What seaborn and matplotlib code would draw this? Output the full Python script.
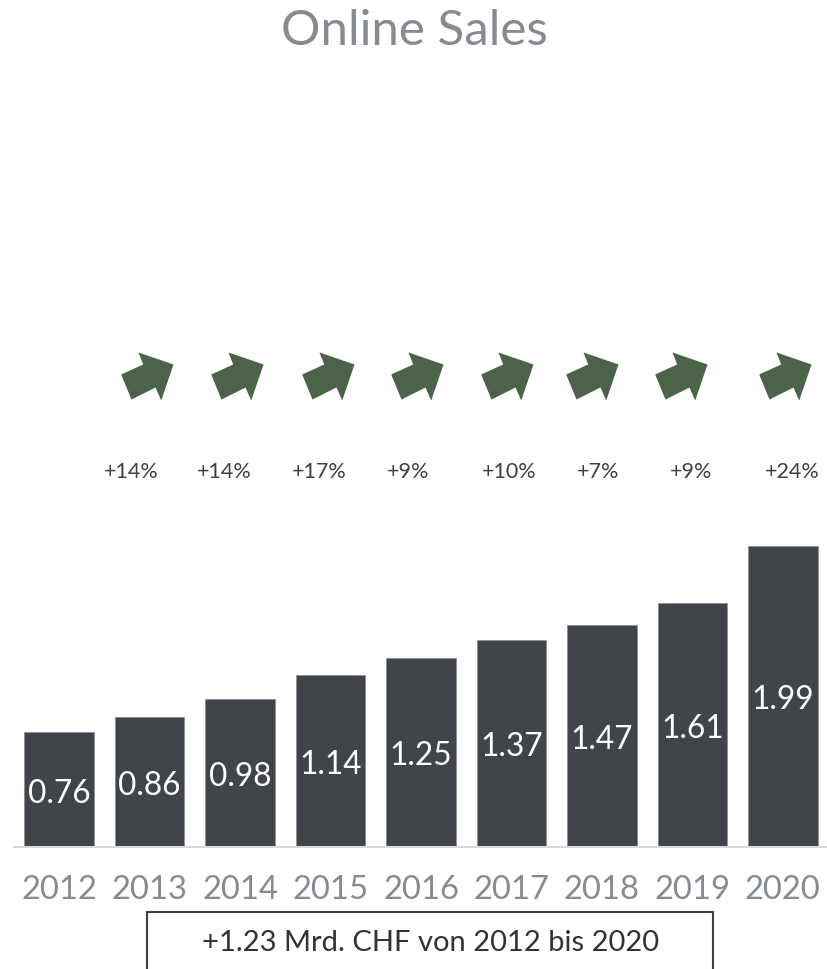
import numpy as np
import pandas as pd
import seaborn as sns
import matplotlib.pyplot as plt
from matplotlib.path import Path
from matplotlib.patches import Rectangle

years = ['2012', '2013', '2014', '2015', '2016', '2017', '2018', '2019', '2020']
sales = [0.76, 0.86, 0.98, 1.14, 1.25, 1.37, 1.47, 1.61, 1.99]
growth = ['+14%', '+14%', '+17%', '+9%', '+10%', '+7%', '+9%', '+24%']
note = '+1.23 Mrd. CHF von 2012 bis 2020'

barColor = '#414449'
arrowColor = '#4a6349'
greyText = '#868b93'

sns.set_style('white')
plt.rcParams['font.family'] = ['Lato', 'DejaVu Sans']

df = pd.DataFrame({'year': years, 'sales': sales})

fig = plt.figure(figsize=(8.28, 9.70), dpi=100)
ax = fig.add_axes([14/828, 122/970, 814/828, 848/970])

sns.barplot(data=df, x='year', y='sales', color=barColor, width=0.77,
            edgecolor='#8a8d92', linewidth=0.6, saturation=1, ax=ax)

for i, v in enumerate(sales):
    ax.text(i, v / 2, f'{v:.2f}', ha='center', va='center_baseline', color='white', fontsize=22.8)

# fat arrow marker, pointing up-right
arrowVerts = [(-16, -23), (-26.3, 2), (-4.3, 12), (-9, 24), (26, 12), (13.7, -24), (8, -11), (-16, -23)]
arrowCodes = [Path.MOVETO] + [Path.LINETO] * 6 + [Path.CLOSEPOLY]
arrowMarker = Path(arrowVerts, arrowCodes)

arrowNudge = [-0.03, -0.03, -0.03, -0.04, -0.05, -0.11, -0.13, 0.02]
textNudge = [-0.2, -0.17, -0.13, -0.14, -0.03, -0.04, -0.01, 0.11]
for k, g in enumerate(growth):
    i = k + 1
    ax.scatter(i + arrowNudge[k], 3.11, marker=arrowMarker, s=1436, color=arrowColor, linewidths=0)
    ax.text(i + textNudge[k], 2.485, g, ha='center', va='center', color='#404040', fontsize=15.5)

ax.set_xlim(-0.5, 8.5)
ax.set_ylim(0, 848/151.3)
ax.set_xlabel('')
ax.set_ylabel('')
ax.set_yticks([])
for s in ['top', 'right', 'left']:
    ax.spines[s].set_visible(False)
ax.spines['bottom'].set_color('#d9d9d9')
ax.spines['bottom'].set_linewidth(1.5)
ax.tick_params(axis='x', length=0, pad=19.5, labelsize=23.6, labelcolor=greyText)

fig.text(0.5, 1 - 31/970, 'Online Sales', ha='center', va='center', fontsize=35.5, color=greyText)

fig.patches.append(Rectangle((147/828, -0.01), (713-147)/828, (970-913)/970 + 0.01,
                             transform=fig.transFigure, fill=False, edgecolor='#404040', linewidth=1.5))
fig.text(431/828, 1 - 943/970, note, ha='center', va='center', fontsize=21, color='#333333')

plt.savefig('out.png', dpi=100)
